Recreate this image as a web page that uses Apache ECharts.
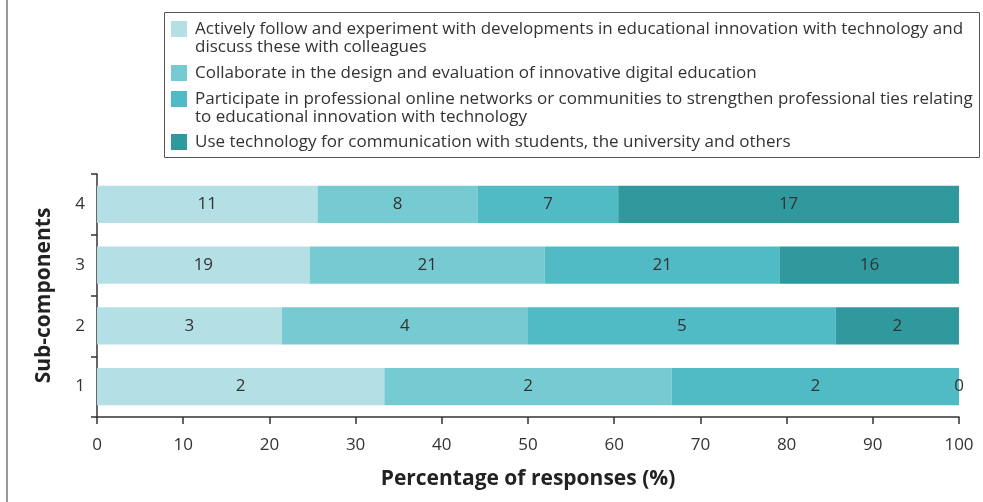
<!DOCTYPE html>
<html>
<head>
<meta charset="utf-8">
<script src="https://cdn.jsdelivr.net/npm/echarts@6/dist/echarts.min.js"></script>
<style>
  html, body { margin: 0; padding: 0; background: #fff; }
  #chart { width: 983px; height: 502px; }
</style>
</head>
<body>
<div id="chart"></div>
<script>
// Sub-component rows (bottom to top)
const categories = ['1', '2', '3', '4'];

// Series names
const seriesNames = [
  'Actively follow and experiment with developments in educational innovation with technology and discuss these with colleagues',
  'Collaborate in the design and evaluation of innovative digital education',
  'Participate in professional online networks or communities to strengthen professional ties relating to educational innovation with technology',
  'Use technology for communication with students, the university and others'
];

// Legend text as it wraps in the key
const legendLabels = [
  'Actively follow and experiment with developments in educational innovation with technology and\ndiscuss these with colleagues',
  'Collaborate in the design and evaluation of innovative digital education',
  'Participate in professional online networks or communities to strengthen professional ties relating\nto educational innovation with technology',
  'Use technology for communication with students, the university and others'
];

// Number of responses per sub-component (1..4)
const countsFollow = [2, 3, 19, 11];
const countsCollaborate = [2, 4, 21, 8];
const countsNetworks = [2, 5, 21, 7];
const countsCommunicate = [0, 2, 16, 17];

const xTicks = [0, 10, 20, 30, 40, 50, 60, 70, 80, 90, 100];

const colors = ['#b3dfe5', '#76cad1', '#51bbc5', '#2f999e'];

const allCounts = [countsFollow, countsCollaborate, countsNetworks, countsCommunicate];
const totals = categories.map((_, i) => allCounts.reduce((s, arr) => s + arr[i], 0));

const FONT = 'Open Sans';

const series = allCounts.map((arr, k) => ({
  name: seriesNames[k],
  type: 'bar',
  stack: 'total',
  barWidth: '61%',
  itemStyle: { color: colors[k] },
  emphasis: { disabled: true },
  label: {
    show: true,
    position: 'inside',
    color: '#333',
    fontFamily: FONT,
    fontSize: 17,
    formatter: p => String(arr[p.dataIndex])
  },
  data: arr.map((v, i) => ({ value: v / totals[i] * 100 }))
}));

// One legend block per entry so each row of the key can be placed on its own
const legendTops = [20, 64, 90, 133];
const legends = seriesNames.map((name, k) => {
  const twoLine = legendLabels[k].indexOf('\n') >= 0;
  const h = twoLine ? 34 : 16;
  return {
    data: [name],
    left: 171,
    top: legendTops[k],
    padding: 0,
    orient: 'vertical',
    itemWidth: 19,
    itemHeight: h,
    icon: 'path://M0,0H16V16H0Z M19,' + h + 'L19,' + h,
    selectedMode: false,
    formatter: () => legendLabels[k],
    textStyle: { fontFamily: FONT, fontSize: 17, color: '#333', lineHeight: 18 }
  };
});

const chart = echarts.init(document.getElementById('chart'));
chart.setOption({
  animation: false,
  color: colors,
  grid: { left: 97, right: 24, top: 174, bottom: 85, containLabel: false },
  legend: legends,
  graphic: [
    {
      type: 'line',
      shape: { x1: 7, y1: 0, x2: 7, y2: 502 },
      style: { stroke: '#999', lineWidth: 2 }
    },
    {
      type: 'rect',
      shape: { x: 164.5, y: 12.5, width: 815, height: 145 },
      style: { fill: 'none', stroke: '#555', lineWidth: 1 },
      z: 0
    }
  ],
  xAxis: {
    type: 'value',
    min: 0,
    max: 100,
    interval: 10,
    name: 'Percentage of responses (%)',
    nameLocation: 'middle',
    nameGap: 52,
    nameTextStyle: { fontFamily: FONT, fontSize: 21, fontWeight: 'bold', color: '#222' },
    axisLine: { show: true, lineStyle: { color: '#333', width: 1.5 } },
    axisTick: { show: true, length: 7, lineStyle: { color: '#333', width: 1.5 } },
    splitLine: { show: false },
    axisLabel: {
      margin: 20,
      fontFamily: FONT,
      fontSize: 17,
      color: '#333',
      formatter: v => (xTicks.indexOf(v) >= 0 ? String(v) : '')
    }
  },
  yAxis: {
    type: 'category',
    data: categories,
    name: 'Sub-components',
    nameLocation: 'middle',
    nameGap: 42,
    nameTextStyle: { fontFamily: FONT, fontSize: 21, fontWeight: 'bold', color: '#222' },
    axisLine: { show: true, lineStyle: { color: '#333', width: 1.5 } },
    axisTick: { show: true, length: 6, lineStyle: { color: '#333', width: 1.5 } },
    axisLabel: { margin: 12, fontFamily: FONT, fontSize: 17, color: '#333' }
  },
  series: series
});
</script>
</body>
</html>
